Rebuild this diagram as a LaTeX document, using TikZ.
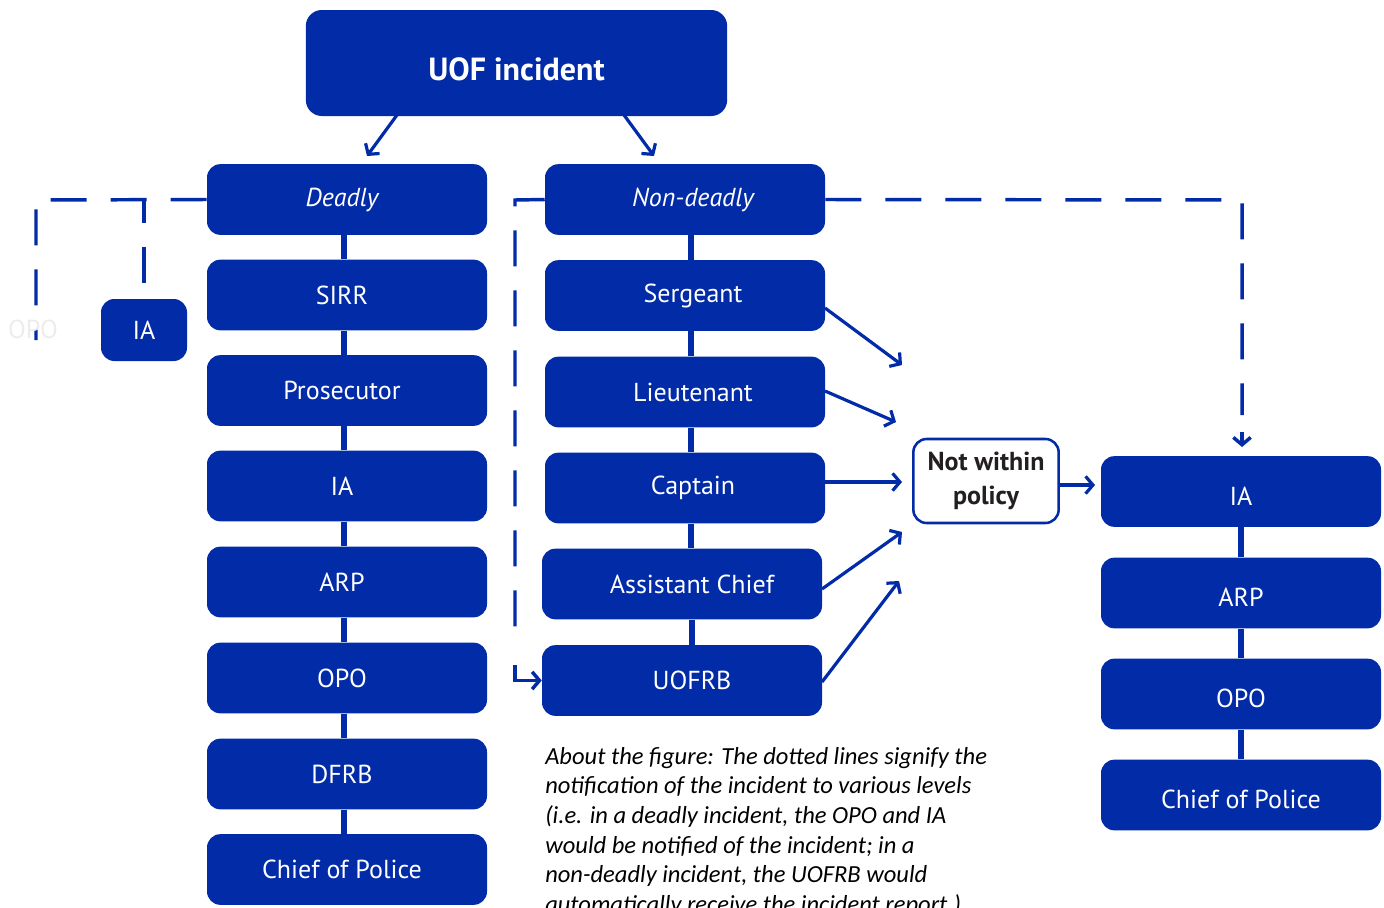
\documentclass[tikz,border=0pt]{standalone}
\usepackage{fontspec}
\usetikzlibrary{arrows.meta,calc}
\newfontfamily\boxfont{PT Sans}
\newfontfamily\capfont{Carlito}
\definecolor{ublue}{RGB}{2,43,168}
\definecolor{faint}{RGB}{236,236,236}
\definecolor{darktxt}{RGB}{35,31,32}
\newcommand{\lt}[1]{\hspace*{-7.5pt}#1}
\newcommand{\mt}[1]{\hspace*{12pt}#1}
\newcommand{\mtb}[1]{\hspace*{15pt}#1}
\newcommand{\rt}[1]{\raisebox{-3.5pt}[\height][\depth]{#1}}
\begin{document}
\begin{tikzpicture}[x=0.75pt,y=-0.75pt,
  bx/.style={fill=ublue, rounded corners=10pt, minimum width=210pt, minimum height=53pt, inner sep=0pt, text=white, font=\boxfont\fontsize{19.5}{23}\selectfont},
  link/.style={draw=ublue, line width=3.8pt},
  arr/.style={draw=ublue, line width=2.4pt, -{Straight Barb[length=5.5pt,width=13pt]}},
  dsh/.style={draw=ublue, line width=2.6pt, dash pattern=on 27pt off 18pt}]
\useasboundingbox (0,0) rectangle (1384,907);

% top
\node[bx, minimum width=316pt, minimum height=79.5pt, rounded corners=12pt, font=\boxfont\bfseries\fontsize{24}{28}\selectfont] (uof) at (516.5,63) {\raisebox{-4.5pt}[\height][\depth]{UOF incident}};

% left column
\node[bx] (dead) at (347,199.5) {\lt{\itshape Deadly}};
\node[bx] (sirr) at (347,295) {\lt{SIRR}};
\node[bx] (pros) at (347,390.5) {\lt{Prosecutor}};
\node[bx] (ial) at (347,486) {\lt{IA}};
\node[bx] (arpl) at (347,582) {\lt{ARP}};
\node[bx] (opol) at (347,678) {\lt{OPO}};
\node[bx] (dfrb) at (347,774) {\lt{DFRB}};
\node[bx] (chl) at (347,869.5) {\lt{Chief of Police}};

% small IA
\node[bx, minimum width=64.5pt, minimum height=46.5pt] (ias) at (144,330) {IA};

% middle column
\node[bx] (nd) at (685,199.5) {\mt{\itshape Non-deadly}};
\node[bx] (sgt) at (685,295.5) {\mt{Sergeant}};
\node[bx] (lt) at (685,392) {\mt{Lieutenant}};
\node[bx] (cpt) at (685,488) {\mt{Captain}};
\node[bx] (ac) at (682,584) {\mtb{Assistant Chief}};
\node[bx] (uofrb) at (682,680.5) {\mtb{UOFRB}};

% right column
\node[bx] (iar) at (1241,491.5) {\rt{IA}};
\node[bx] (arpr) at (1241,593) {\rt{ARP}};
\node[bx] (opor) at (1241,694) {\rt{OPO}};
\node[bx] (chr) at (1241,795) {\rt{Chief of Police}};

% not within policy
\node[draw=ublue, line width=1.9pt, fill=white, rounded corners=10pt, minimum width=109pt, minimum height=63pt, inner sep=0pt, align=center, text=darktxt, font=\boxfont\bfseries\fontsize{19.5}{25}\selectfont] (nwp) at (986,481) {Not within\\policy};

% vertical links
\foreach \a/\b in {dead/sirr, sirr/pros, pros/ial, ial/arpl, arpl/opol, opol/dfrb, dfrb/chl}
  \draw[link] ([xshift=-2.25pt]\a.south) -- ([xshift=-2.25pt]\b.north);
\foreach \a/\b in {nd/sgt, sgt/lt, lt/cpt}
  \draw[link] ([xshift=4.5pt]\a.south) -- ([xshift=4.5pt]\b.north);
\draw[link] ([xshift=4.5pt]cpt.south) -- ([xshift=4.5pt]cpt.south |- ac.north);
\draw[link] ([xshift=7.5pt]ac.south) -- ([xshift=7.5pt]uofrb.north);
\foreach \a/\b in {iar/arpr, arpr/opor, opor/chr}
  \draw[link] (\a.south) -- (\b.north);

% top arrows
\coordinate (u1) at (397,115);
\coordinate (u2) at (624,115);
\coordinate (d1) at (367,156);
\coordinate (d2) at (654,156);
\draw[arr] (u1) -- (d1);
\draw[arr] (u2) -- (d2);

% dashed lines
\coordinate (lc1) at (36,200);
\coordinate (lc2) at (36,340);
\coordinate (lb) at (144,200);
\draw[dsh] (dead.west) -- (lc1) -- (lc2);
\draw[dsh, dash phase=10pt] (lb) -- (ias.north);
\node[text=faint, font=\boxfont\fontsize{19.5}{23}\selectfont] (opof) at (33,329) {OPO};

\coordinate (mc1) at (515,200);
\coordinate (mc2) at (515,680.5);
\coordinate (mc3) at (515,640);
\draw[dsh] (nd.west) -- (mc1) -- (mc3);
\draw[draw=ublue, line width=2.6pt, -{Straight Barb[length=5.5pt,width=13pt]}] (515,665) -- (mc2) -- (uofrb.west);

\coordinate (rc1) at (1242,200);
\coordinate (rc2) at (1242,447);
\coordinate (rc3) at (1242,415);
\draw[dsh] (nd.east) -- (rc1) -- (rc3);
\draw[draw=ublue, line width=2.6pt, -{Straight Barb[length=5.5pt,width=13pt]}] (1242,432) -- (rc2);

% arrows to not within policy
\coordinate (s1) at (825,308);  \coordinate (t1) at (902,365);
\coordinate (s2) at (825,391);  \coordinate (t2) at (896,422);
\coordinate (s3) at (825,482);  \coordinate (t3) at (902,482);
\coordinate (s4) at (822,589);  \coordinate (t4) at (902,532);
\coordinate (s5) at (822,682);  \coordinate (t5) at (899,581);
\draw[arr] (s1) -- (t1);
\draw[arr] (s2) -- (t2);
\draw[arr] (s3) -- (t3);
\draw[arr] (s4) -- (t4);
\draw[arr] (s5) -- (t5);
\coordinate (t6) at (1095,485);
\draw[arr] (nwp.east |- t6) -- (t6);

% caption
\node[anchor=north west, inner sep=0pt, align=left, font=\capfont\itshape\fontsize{18.4}{22.2}\selectfont] (cap) at (545,747)
{About the figure: The dotted lines signify the\\
notification of the incident to various levels\\
(i.e. in a deadly incident, the OPO and IA\\
would be notified of the incident; in a\\
non-deadly incident, the UOFRB would\\
automatically receive the incident report.)};
\end{tikzpicture}
\end{document}
